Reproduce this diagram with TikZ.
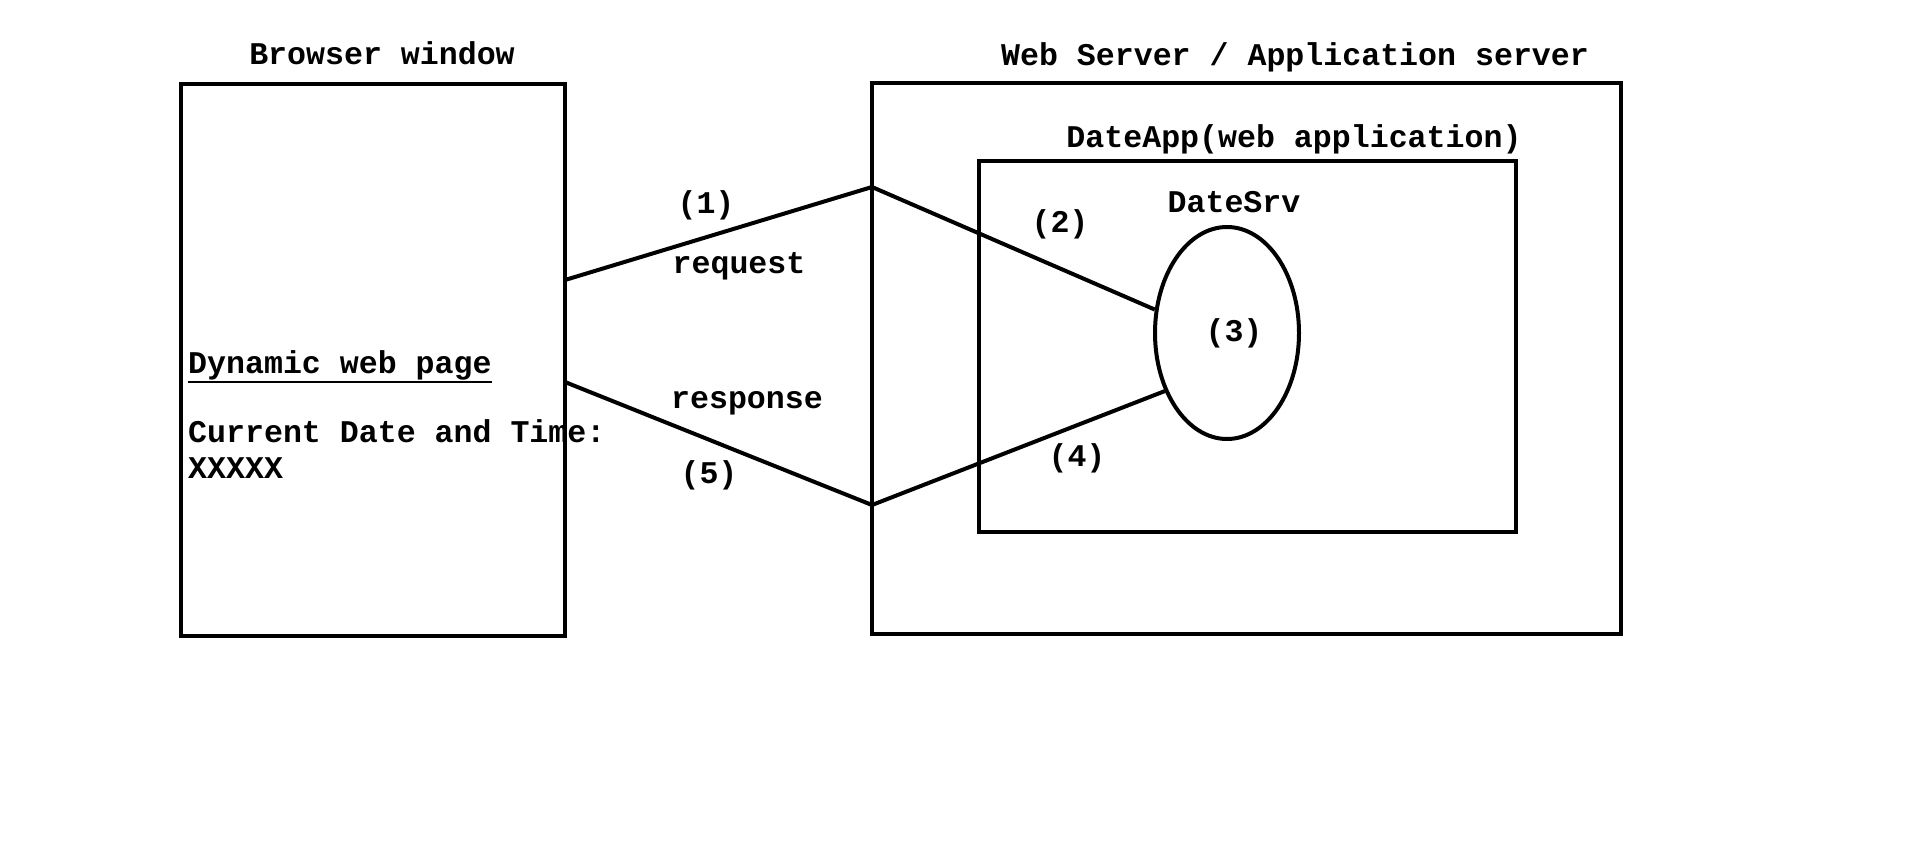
\documentclass[tikz,border=0pt]{standalone}
\usepackage{fontspec}
\setmainfont{Liberation Mono}
\usetikzlibrary{shapes.geometric,calc}
\begin{document}
\begin{tikzpicture}[x=1pt,y=-1pt,
  box/.style={draw,line width=4pt,rectangle,inner sep=0pt},
  conn/.style={line width=4pt},
  lbl/.style={inner sep=0pt,anchor=base,font=\fontsize{31.6pt}{36pt}\selectfont\bfseries},
  lbll/.style={lbl,anchor=base west}]
\useasboundingbox (0,0) rectangle (1914,867);
\fill[white] (0,0) rectangle (1914,867);
% boxes
\node[box,minimum width=384pt,minimum height=552pt] (browser) at (373,360) {};
\node[box,minimum width=749pt,minimum height=551pt] (server) at (1246.5,358.5) {};
\node[box,minimum width=537pt,minimum height=371pt] (dateapp) at (1247.5,346.5) {};
\node[draw,ellipse,line width=4pt,inner sep=0pt,minimum width=144pt,minimum height=212pt] (srv) at (1227,333) {};
% connection points
\coordinate (b1) at (565,280);
\coordinate (b5) at (565,382);
\coordinate (s1) at (872,187);
\coordinate (s5) at (872,505);
\draw[conn] (b1) -- (s1);
\draw[conn] (s1) -- (srv.162);
\draw[conn] (srv.223.5) -- (s5);
\draw[conn] (s5) -- (b5);
% labels
\node[lbl] (lbrowser) at (382,65) {Browser window};
\node[lbl] (lserver) at (1295,66) {Web Server / Application server};
\node[lbl] (ldateapp) at (1294,147) {DateApp(web application)};
\node[lbl] (ldatesrv) at (1234,212) {DateSrv};
\node[lbl] (l1) at (706,213) {(1)};
\node[lbl] (lreq) at (739,273) {request};
\node[lbl] (l2) at (1060,232) {(2)};
\node[lbl] (l3) at (1234,341) {(3)};
\node[lbl] (lresp) at (747,408) {response};
\node[lbl] (l5) at (709,483) {(5)};
\node[lbl] (l4) at (1077,466) {(4)};
\node[lbll] (ldyn) at (188,373) {Dynamic web page};
\draw[line width=2.7pt] ($(ldyn.base west)+(0,9)$) -- ($(ldyn.base east)+(0,9)$);
\node[lbll] (lcur) at (188,442) {Current Date and Time:};
\node[lbll] (lxx) at (188,478) {XXXXX};
\end{tikzpicture}
\end{document}
